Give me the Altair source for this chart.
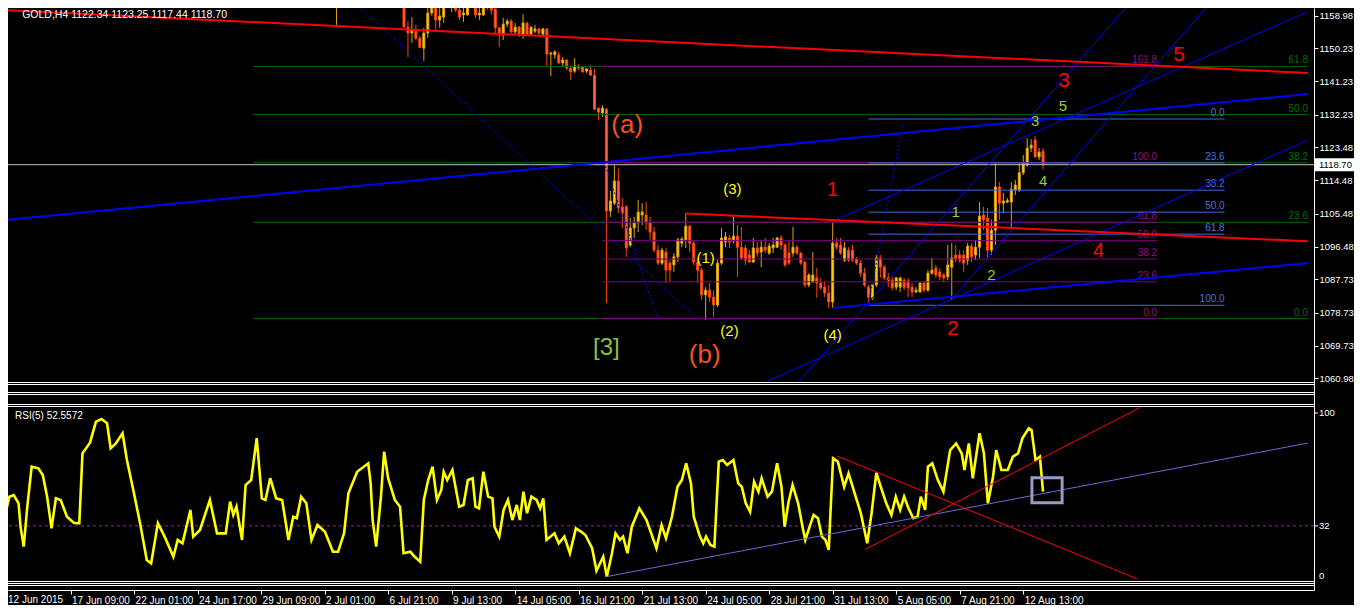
import altair as alt
import pandas as pd

# ---------------- layout (plot area = reference x 8..1314, y 8..590) ----------------
W, H = 1306, 582
X_DOMAIN = [1.5, 328.0]          # bar index (4 px per H4 bar)
P_DOMAIN = [1003.74, 1161.06]    # price scale of the main window
R_DOMAIN = [-6.63, 343.98]       # RSI scale of the sub window

# ---------------- data ----------------
x_tick_bars = [0, 16, 32, 48, 64, 80, 96, 112, 128, 144, 160, 176, 192, 208, 224, 240, 256]
x_tick_labels = ["12 Jun 2015", "17 Jun 09:00", "22 Jun 01:00", "24 Jun 17:00", "29 Jun 09:00",
                 "2 Jul 01:00", "6 Jul 21:00", "9 Jul 13:00", "14 Jul 05:00", "16 Jul 21:00",
                 "21 Jul 13:00", "24 Jul 05:00", "28 Jul 21:00", "31 Jul 13:00", "5 Aug 05:00",
                 "7 Aug 21:00", "12 Aug 13:00"]
price_ticks = [1158.98, 1150.23, 1141.23, 1132.23, 1123.48, 1114.48, 1105.48,
               1096.48, 1087.73, 1078.73, 1069.73, 1060.98]
rsi_ticks = [100, 32]
last_price = 1118.70
rsi_last = "52.5572"

# (bar, open, high, low, close)
candles = [
    (83, 1166.0, 1169.0, 1156.5, 1168.0), (84, 1165.0, 1170.0, 1161.6, 1167.5),
    (85, 1165.5, 1170.0, 1162.7, 1168.0), (93, 1168.0, 1170.0, 1162.4, 1165.0),
    (100, 1166.0, 1167.0, 1155.6, 1156.0), (101, 1155.9, 1157.5, 1147.8, 1154.3),
    (102, 1154.3, 1158.6, 1151.6, 1155.1), (103, 1154.8, 1156.5, 1152.4, 1152.9),
    (104, 1152.9, 1153.5, 1150.2, 1150.4), (105, 1150.2, 1155.7, 1146.7, 1154.3),
    (106, 1154.3, 1163.5, 1153.0, 1159.7), (107, 1159.7, 1164.5, 1159.0, 1162.7),
    (108, 1162.7, 1163.9, 1154.6, 1157.8), (109, 1157.8, 1161.3, 1155.7, 1158.9),
    (110, 1158.6, 1164.5, 1157.0, 1163.5), (111, 1164.5, 1165.5, 1161.1, 1161.9),
    (112, 1161.9, 1165.0, 1160.0, 1163.6), (113, 1163.8, 1165.0, 1160.0, 1160.5),
    (114, 1160.5, 1161.3, 1157.8, 1158.6), (115, 1159.2, 1161.1, 1157.3, 1159.7),
    (116, 1159.2, 1162.7, 1159.0, 1162.4), (117, 1162.4, 1163.5, 1161.1, 1162.8),
    (118, 1162.7, 1163.5, 1158.3, 1159.2), (119, 1159.2, 1163.5, 1157.8, 1159.7),
    (120, 1159.2, 1164.5, 1158.9, 1163.6), (121, 1163.6, 1164.5, 1160.5, 1161.1),
    (122, 1161.1, 1163.5, 1159.2, 1160.5), (123, 1160.8, 1160.9, 1154.3, 1155.7),
    (124, 1155.7, 1155.8, 1150.5, 1153.8), (125, 1153.8, 1158.4, 1152.4, 1156.7),
    (126, 1156.7, 1158.1, 1155.9, 1157.5), (127, 1157.5, 1158.1, 1154.3, 1154.6),
    (128, 1154.6, 1157.0, 1153.8, 1155.9), (129, 1155.9, 1156.2, 1153.2, 1153.8),
    (130, 1153.8, 1159.4, 1152.7, 1157.0), (131, 1157.0, 1157.3, 1153.5, 1153.8),
    (132, 1154.0, 1156.1, 1153.8, 1155.9), (133, 1154.8, 1156.5, 1154.3, 1155.4),
    (134, 1155.4, 1155.7, 1153.2, 1154.3), (135, 1154.0, 1155.7, 1153.8, 1155.4),
    (136, 1155.4, 1155.6, 1145.4, 1148.6), (137, 1148.6, 1149.2, 1142.7, 1148.9),
    (138, 1148.4, 1149.7, 1147.3, 1149.2), (139, 1148.4, 1149.2, 1145.9, 1146.2),
    (140, 1146.2, 1147.8, 1145.1, 1147.0), (141, 1147.0, 1147.2, 1144.3, 1144.8),
    (142, 1144.8, 1145.6, 1141.6, 1143.8), (143, 1144.0, 1147.5, 1143.5, 1145.4),
    (144, 1145.4, 1145.9, 1144.3, 1144.8), (145, 1145.1, 1145.3, 1143.5, 1143.8),
    (146, 1144.0, 1144.8, 1143.5, 1144.6), (147, 1144.3, 1145.6, 1142.7, 1142.9),
    (148, 1142.9, 1144.6, 1133.5, 1133.7), (149, 1134.0, 1134.2, 1130.8, 1132.9),
    (150, 1132.7, 1134.8, 1131.6, 1134.0), (151, 1133.7, 1134.0, 1081.3, 1106.2),
    (152, 1106.2, 1111.6, 1104.6, 1108.9), (153, 1108.3, 1118.6, 1107.8, 1114.3),
    (154, 1114.3, 1117.7, 1105.6, 1107.0), (155, 1107.3, 1109.7, 1101.6, 1105.6),
    (156, 1107.3, 1107.8, 1093.8, 1096.2), (157, 1097.0, 1104.3, 1096.4, 1101.6),
    (158, 1101.6, 1104.6, 1098.9, 1103.0), (159, 1103.0, 1109.2, 1100.5, 1105.9),
    (160, 1105.1, 1108.3, 1102.4, 1105.9), (161, 1105.1, 1108.6, 1101.1, 1103.0),
    (162, 1103.0, 1104.6, 1098.4, 1100.5), (163, 1100.5, 1101.9, 1095.1, 1095.6),
    (164, 1095.6, 1097.0, 1091.6, 1092.1), (165, 1092.1, 1096.2, 1091.6, 1095.6),
    (166, 1095.1, 1096.2, 1086.7, 1090.2), (167, 1092.1, 1092.9, 1087.0, 1090.2),
    (168, 1091.6, 1094.8, 1089.7, 1093.8), (169, 1093.8, 1098.9, 1092.4, 1098.4),
    (170, 1097.5, 1099.2, 1096.4, 1098.6), (171, 1098.4, 1105.6, 1096.2, 1102.1),
    (172, 1102.1, 1102.4, 1095.1, 1097.5), (173, 1097.5, 1098.4, 1091.6, 1092.4),
    (174, 1092.4, 1092.9, 1086.7, 1090.2), (175, 1090.2, 1090.8, 1082.1, 1083.5),
    (176, 1083.5, 1085.6, 1076.7, 1084.8), (177, 1084.8, 1086.7, 1081.6, 1082.9),
    (178, 1082.9, 1084.8, 1077.5, 1080.8), (179, 1080.8, 1092.9, 1080.2, 1092.1),
    (180, 1092.1, 1101.6, 1091.6, 1098.9), (181, 1097.8, 1100.5, 1096.4, 1099.2),
    (182, 1098.9, 1099.7, 1096.2, 1097.8), (183, 1098.4, 1105.1, 1097.5, 1099.4),
    (184, 1099.4, 1102.4, 1088.4, 1096.4), (185, 1096.4, 1101.9, 1092.9, 1093.5),
    (186, 1096.2, 1097.0, 1091.6, 1092.9), (187, 1094.3, 1095.6, 1092.1, 1092.4),
    (188, 1092.4, 1098.9, 1092.1, 1096.2), (189, 1096.2, 1097.8, 1093.8, 1094.8),
    (190, 1095.1, 1098.4, 1091.0, 1096.4), (191, 1096.4, 1098.9, 1094.8, 1095.6),
    (192, 1094.8, 1097.5, 1094.3, 1096.7), (193, 1096.2, 1098.9, 1094.8, 1097.0),
    (194, 1096.4, 1099.2, 1096.2, 1098.9), (195, 1098.9, 1099.7, 1095.6, 1097.0),
    (196, 1097.0, 1097.5, 1091.0, 1091.6), (197, 1094.8, 1098.4, 1091.6, 1092.1),
    (198, 1094.8, 1101.9, 1093.8, 1096.4), (199, 1096.4, 1097.0, 1094.3, 1094.8),
    (200, 1094.8, 1095.1, 1091.6, 1092.1), (201, 1092.4, 1092.6, 1085.6, 1086.2),
    (202, 1086.2, 1089.4, 1085.6, 1088.9), (203, 1087.0, 1095.1, 1086.8, 1088.9),
    (204, 1088.1, 1090.8, 1082.7, 1086.7), (205, 1086.7, 1088.1, 1084.8, 1085.4),
    (206, 1085.6, 1087.0, 1082.9, 1084.0), (207, 1084.0, 1086.2, 1080.0, 1081.6),
    (208, 1081.6, 1103.2, 1080.0, 1097.5), (209, 1097.5, 1098.9, 1095.6, 1096.4),
    (210, 1097.0, 1098.9, 1094.3, 1094.8), (211, 1092.9, 1097.8, 1092.4, 1096.2),
    (212, 1095.6, 1096.4, 1092.4, 1092.9), (213, 1095.6, 1097.0, 1092.4, 1092.9),
    (214, 1093.2, 1093.8, 1091.6, 1092.1), (215, 1092.1, 1092.9, 1088.4, 1089.4),
    (216, 1089.4, 1090.8, 1085.6, 1086.2), (217, 1085.6, 1086.2, 1080.8, 1082.9),
    (218, 1082.7, 1086.7, 1082.1, 1086.2), (219, 1086.2, 1094.3, 1085.6, 1093.5),
    (220, 1093.5, 1094.3, 1088.1, 1091.0), (221, 1091.0, 1091.6, 1087.5, 1088.1),
    (222, 1088.1, 1089.4, 1085.6, 1087.0), (223, 1087.5, 1088.4, 1084.8, 1085.4),
    (224, 1085.6, 1088.4, 1084.8, 1088.1), (225, 1085.6, 1088.4, 1084.3, 1088.1),
    (226, 1087.5, 1088.1, 1084.8, 1085.6), (227, 1087.3, 1088.1, 1082.9, 1085.4),
    (228, 1085.6, 1086.7, 1082.9, 1084.3), (229, 1084.3, 1085.6, 1084.0, 1084.8),
    (230, 1084.3, 1087.0, 1084.0, 1086.7), (231, 1086.7, 1087.0, 1084.3, 1084.8),
    (232, 1084.8, 1090.2, 1084.3, 1089.4), (233, 1089.4, 1093.5, 1088.9, 1090.2),
    (234, 1090.8, 1091.6, 1088.1, 1088.9), (235, 1089.7, 1090.8, 1087.5, 1088.4),
    (236, 1088.9, 1089.4, 1087.0, 1088.1), (237, 1088.4, 1097.0, 1087.5, 1091.6),
    (238, 1091.0, 1097.5, 1082.1, 1093.5), (239, 1094.3, 1097.0, 1092.4, 1093.2),
    (240, 1094.3, 1095.6, 1092.1, 1092.9), (241, 1094.3, 1095.6, 1089.7, 1092.1),
    (242, 1092.9, 1097.5, 1091.6, 1096.7), (243, 1096.7, 1097.5, 1092.4, 1093.8),
    (244, 1094.3, 1098.4, 1092.9, 1096.4), (245, 1096.4, 1108.6, 1093.5, 1104.8),
    (246, 1105.1, 1107.3, 1101.1, 1103.8), (247, 1104.3, 1107.0, 1093.5, 1095.6),
    (248, 1095.6, 1103.8, 1094.3, 1101.0), (249, 1101.0, 1119.2, 1097.0, 1112.7),
    (250, 1112.7, 1114.0, 1103.8, 1108.3), (251, 1108.3, 1111.1, 1105.6, 1108.9),
    (252, 1108.6, 1109.7, 1108.3, 1109.0), (253, 1108.6, 1114.0, 1101.6, 1112.1),
    (254, 1111.9, 1114.6, 1110.5, 1113.2), (255, 1111.9, 1119.4, 1111.3, 1116.5),
    (256, 1116.5, 1121.3, 1115.9, 1119.2), (257, 1118.6, 1125.9, 1118.1, 1123.2),
    (258, 1123.2, 1125.6, 1122.1, 1124.0), (259, 1125.4, 1126.5, 1120.5, 1120.8),
    (260, 1120.8, 1123.2, 1120.0, 1122.1), (261, 1122.34, 1123.25, 1117.44, 1118.70),
]

# RSI(5) vertices (bar, value)
rsi_points = [
    (-0.5, 38.6), (0.6, 49.6), (1.7, 50.6), (2.9, 45.6), (3.4, 31.5), (4.2, 19.5), (5.1, 43.6),
    (6.2, 67.7), (7.9, 66.7), (9.0, 62.7), (10.1, 49.6), (11.2, 30.5), (12.3, 48.6), (13.5, 47.6),
    (15.1, 37.5), (16.8, 33.9), (18.2, 33.6), (19.0, 75.7), (20.9, 82.1), (22.4, 94.8), (23.8, 96.4),
    (25.2, 93.8), (26.1, 78.7), (27.4, 81.7), (29.1, 87.8), (30.2, 71.7), (31.9, 52.6), (33.6, 32.5),
    (35.2, 11.4), (36.3, 9.4), (38.0, 33.6), (39.7, 25.5), (41.9, 13.4), (43.0, 23.5), (44.2, 21.5),
    (46.2, 41.6), (46.9, 25.5), (48.6, 29.5), (51.1, 47.6), (52.9, 27.5), (55.1, 27.5), (56.2, 46.6),
    (57.0, 38.6), (57.8, 43.6), (59.2, 23.5), (60.1, 56.6), (61.5, 59.6), (62.9, 84.8), (64.2, 48.6),
    (65.1, 47.6), (66.3, 60.7), (67.8, 48.6), (69.3, 47.6), (70.9, 23.5), (72.1, 37.5), (73.0, 36.6),
    (74.1, 49.6), (75.4, 45.6), (76.7, 23.5), (78.2, 32.5), (80.1, 28.5), (82.1, 16.4), (83.4, 16.4),
    (84.9, 27.5), (86.0, 51.6), (88.2, 64.6), (91.0, 69.7), (91.6, 57.6), (92.1, 35.5), (93.0, 19.5),
    (94.2, 49.6), (95.0, 76.7), (96.0, 60.7), (97.7, 47.6), (99.0, 43.6), (99.9, 15.5), (101.6, 16.4),
    (102.7, 13.4), (104.1, 10.4), (105.0, 47.6), (106.1, 59.6), (107.2, 67.7), (108.3, 47.6),
    (109.4, 53.6), (110.0, 64.6), (110.9, 59.6), (112.2, 65.7), (113.9, 43.6), (115.0, 44.6),
    (116.1, 59.6), (117.3, 60.7), (118.0, 43.6), (118.9, 42.6), (120.0, 64.6), (121.2, 49.6),
    (122.3, 48.6), (122.8, 31.5), (124.0, 25.5), (125.1, 41.6), (126.2, 47.6), (127.3, 35.5),
    (128.4, 44.6), (129.2, 35.5), (130.1, 52.6), (131.0, 39.6), (132.1, 49.6), (133.4, 47.6),
    (134.3, 42.6), (135.1, 48.6), (135.9, 23.5), (137.9, 27.5), (139.0, 21.5), (140.4, 25.5),
    (141.8, 15.5), (143.3, 30.5), (144.6, 28.5), (145.7, 26.5), (147.4, 18.5), (148.5, 5.0),
    (150.2, 13.4), (151.1, 1.4), (152.4, 15.5), (153.3, 27.5), (154.4, 23.5), (155.2, 25.5),
    (156.3, 15.5), (157.4, 31.5), (159.3, 42.6), (161.1, 35.5), (163.6, 18.5), (164.9, 32.5),
    (166.0, 24.5), (167.5, 37.5), (168.9, 55.6), (170.0, 59.6), (171.1, 69.7), (172.3, 57.6),
    (173.0, 37.5), (174.5, 26.0), (175.4, 21.5), (176.1, 25.5), (177.2, 20.5), (178.2, 19.5),
    (179.3, 70.7), (180.3, 71.7), (181.4, 68.7), (183.0, 71.7), (184.2, 57.6), (185.1, 55.6),
    (186.1, 45.6), (187.2, 40.5), (188.2, 58.6), (189.3, 52.6), (190.1, 60.7), (191.6, 49.6),
    (192.7, 52.6), (194.0, 69.7), (195.1, 55.6), (195.9, 31.5), (196.9, 46.6), (197.9, 56.6),
    (199.3, 45.6), (200.4, 31.5), (201.1, 23.5), (202.2, 31.5), (203.2, 38.6), (204.3, 36.6),
    (205.3, 25.5), (206.2, 23.5), (207.0, 17.5), (208.1, 72.7), (209.3, 70.7), (210.9, 55.6),
    (212.0, 63.7), (213.8, 49.6), (215.1, 39.6), (216.7, 21.5), (217.8, 39.6), (219.0, 64.0),
    (220.1, 55.6), (221.5, 45.6), (222.8, 38.6), (223.9, 49.6), (225.0, 41.6), (226.0, 49.6),
    (227.1, 42.6), (228.3, 36.6), (229.4, 37.5), (230.2, 49.6), (231.3, 41.6), (232.0, 67.7),
    (233.1, 69.7), (234.5, 59.6), (235.9, 52.6), (237.6, 77.7), (239.1, 81.7), (240.5, 75.7),
    (241.2, 65.7), (242.3, 81.7), (243.3, 60.7), (245.0, 87.8), (246.1, 75.7), (247.1, 45.6),
    (248.4, 61.6), (249.2, 77.7), (250.5, 65.7), (252.1, 65.7), (253.4, 73.7), (254.7, 75.7),
    (255.8, 84.8), (257.4, 90.8), (258.1, 89.8), (259.1, 71.7), (260.2, 73.7), (261.0, 52.6),
]

# trend lines (bar0, price0, bar1, price1)
thick_red = [(-0.5, 1160.5, 327.75, 1143.5), (171.0, 1105.5, 327.75, 1098.0)]
thick_blue = [(-0.5, 1103.75, 327.75, 1137.8), (208.25, 1080.0, 327.75, 1092.1)]
thin_blue = [(208.25, 1103.5, 327.75, 1160.1), (191.25, 1060.0, 327.75, 1125.4),
             (199.5, 1060.0, 283.5, 1163.2), (238.25, 1082.7, 303.75, 1163.2)]
dashed_blue = [(217.0, 1081.0, 225.75, 1130.0), (87.0, 1163.2, 174.0, 1077.0),
               (150.75, 1118.35, 164.0, 1077.0)]

# Fibonacci objects: (0% price, 100% price, start bar, end bar, levels)
fib_green = (1077.1, 1187.4, 62.0, 327.75, [0.0, 23.6, 38.2, 50.0, 61.8])
fib_purple = (1077.1, 1119.25, 150.0, 289.75, [0.0, 23.6, 38.2, 50.0, 61.8, 100.0, 161.8])
fib_blue = (1131.05, 1080.7, 217.0, 306.75, [0.0, 23.6, 38.2, 50.0, 61.8, 100.0])

# RSI objects
rsi_red = [(216.2, 17.9, 285.5, 103.4), (209.1, 74.1, 284.75, 0.0)]
rsi_blue = [(151.0, 1.4, 327.75, 81.9)]
rsi_box = [(258.2, 61.0, 265.8, 46.0)]
rsi_level = 32

# wave labels (text, bar, price, colour, font size)
wave_labels = [
    ("(a)", 156.25, 1129.4, "#F5501E", 26), ("(b)", 175.75, 1067.3, "#F5501E", 26),
    ("[3]", 151.0, 1069.1, "#86C440", 24),
    ("(3)", 182.75, 1112.1, "#FFFF00", 15), ("(1)", 176.0, 1093.5, "#FFFF00", 15),
    ("(2)", 182.0, 1073.8, "#FFFF00", 15), ("(4)", 208.0, 1072.7, "#FFFF00", 15),
    ("1", 208.0, 1111.9, "#FF0000", 21), ("2", 238.25, 1074.3, "#FF0000", 21),
    ("3", 266.25, 1141.3, "#FF0000", 21), ("4", 275.0, 1095.4, "#FF0000", 21),
    ("5", 295.25, 1148.4, "#FF0000", 21),
    ("1", 239.0, 1105.9, "#9ACD32", 15), ("2", 248.0, 1088.8, "#9ACD32", 15),
    ("3", 259.0, 1130.5, "#9ACD32", 15), ("4", 261.0, 1114.3, "#9ACD32", 15),
    ("5", 266.0, 1134.6, "#9ACD32", 15),
]

# ---------------- styling ----------------
FONT = "Liberation Sans"
UP_BODY, UP_EDGE = "#FFD700", "#E0A010"
DN_BODY, DN_EDGE = "#FF6347", "#FF4500"

xs = alt.Scale(domain=X_DOMAIN, nice=False, zero=False)
ps = alt.Scale(domain=P_DOMAIN, nice=False, zero=False)
rs = alt.Scale(domain=R_DOMAIN, nice=False, zero=False)

label_expr = "[" + ",".join("'%s'" % s for s in x_tick_labels) + "][round(datum.value / 16)]"
xaxis = alt.Axis(values=x_tick_bars, labelExpr=label_expr, labelAlign="left", labelBaseline="top",
                 labelColor="white", labelFont=FONT, labelFontSize=10, labelPadding=1, labelOffset=1,
                 tickColor="white", tickSize=4, domainColor="white", grid=False, title=None,
                 labelFlush=False, labelOverlap=False, labelBound=False)
price_axis = alt.Axis(orient="right", values=price_ticks, format=".2f", labelColor="white",
                      labelFont=FONT, labelFontSize=9.5, labelPadding=1, tickColor="white",
                      tickSize=4, domainColor="white", grid=False, title=None,
                      labelOverlap=False, labelFlush=False, labelBound=False)


def X(f):
    return alt.X(f, type="quantitative", scale=xs, axis=xaxis)


def PY(f, axis=None):
    return alt.Y(f, type="quantitative", scale=ps, axis=axis)


def RY(f):
    return alt.Y(f, type="quantitative", scale=rs, axis=None)


def seg_df(segs):
    return pd.DataFrame(segs, columns=["b0", "v0", "b1", "v1"])


def seg_layer(segs, yfun, **mk):
    return alt.Chart(seg_df(segs)).mark_rule(clip=True, **mk).encode(
        x=X("b0"), x2="b1", y=yfun("v0"), y2="v1")


def fib_frames(fib):
    p0, p100, b0, b1, levels = fib
    df = pd.DataFrame({"lvl": levels})
    df["price"] = p0 + (p100 - p0) * df["lvl"] / 100.0
    df["txt"] = df["lvl"].map(lambda v: "%.1f" % v)
    df["b0"] = b0
    df["b1"] = b1
    return df


layers = []

# window separators (frame lines between the price and RSI windows), crisp half-pixel rows
sep = pd.DataFrame({"yy": [374.5, 376.5, 384.5, 386.5, 396.5, 398.5, 573.5, 575.5, 577.5]})
layers.append(alt.Chart(sep).mark_rule(color="white", strokeWidth=1).encode(
    x=alt.value(0), x2=alt.value(W), y=alt.Y("yy:Q", scale=None, axis=None)))

# ---- RSI window ----
layers.append(alt.Chart(pd.DataFrame({"v": [rsi_level]})).mark_rule(
    color="#A020A0", strokeDash=[3, 3], strokeWidth=1).encode(y=RY("v")))
rdf = pd.DataFrame(rsi_points, columns=["bar", "rsi"])
layers.append(alt.Chart(rdf).mark_line(color="#FFFF00", strokeWidth=2.6, clip=True).encode(
    x=X("bar"), y=RY("rsi"), order="bar:Q"))
layers.append(seg_layer(rsi_blue, RY, color="#6B6BD6", strokeWidth=1))
layers.append(seg_layer(rsi_red, RY, color="#FF0000", strokeWidth=1))
layers.append(alt.Chart(seg_df(rsi_box)).mark_rect(
    fillOpacity=0, stroke="#9A9AC4", strokeWidth=3, clip=True).encode(
    x=X("b0"), x2="b1", y=RY("v0"), y2="v1"))
layers.append(alt.Chart(pd.DataFrame({"b": [2.0], "v": [98.2], "t": ["RSI(5) " + rsi_last]})).mark_text(
    align="left", baseline="middle", color="white", font=FONT, fontSize=10).encode(
    x=X("b"), y=RY("v"), text="t:N"))
rt = pd.DataFrame({"v": rsi_ticks, "t": [str(v) for v in rsi_ticks]})
layers.append(alt.Chart(rt).mark_rule(color="white").encode(
    x=alt.value(W), x2=alt.value(W + 4), y=RY("v")))
layers.append(alt.Chart(rt).mark_text(align="left", baseline="middle", color="white",
                                      font=FONT, fontSize=9.5).encode(
    x=alt.value(W + 5), y=RY("v"), text="t:N"))
layers.append(alt.Chart(pd.DataFrame({"v": [0], "t": ["0"]})).mark_text(
    align="left", baseline="middle", color="white", font=FONT, fontSize=9.5, dy=-3).encode(
    x=alt.value(W + 5), y=RY("v"), text="t:N"))

# ---- price window ----
cdf = pd.DataFrame(candles, columns=["bar", "open", "high", "low", "close"])
up = cdf[cdf["close"] >= cdf["open"]]
dn = cdf[cdf["close"] < cdf["open"]]
layers.append(alt.Chart(up).mark_rule(color=UP_EDGE, strokeWidth=1, clip=True).encode(
    x=X("bar"), y=PY("low", price_axis), y2="high"))
layers.append(alt.Chart(dn).mark_rule(color=DN_EDGE, strokeWidth=1, clip=True).encode(
    x=X("bar"), y=PY("low"), y2="high"))
layers.append(alt.Chart(up).mark_bar(size=2, fill=UP_BODY, stroke=UP_EDGE, strokeWidth=1,
                                     clip=True).encode(x=X("bar"), y=PY("open"), y2="close"))
layers.append(alt.Chart(dn).mark_bar(size=2, fill=DN_BODY, stroke=DN_EDGE, strokeWidth=1,
                                     clip=True).encode(x=X("bar"), y=PY("open"), y2="close"))

# Fibonacci retracements
for fib, col, tcol in [(fib_green, "#006400", "#007000"), (fib_purple, "#800080", "#8B108B"),
                       (fib_blue, "#4169E1", "#4A72E8")]:
    fdf = fib_frames(fib)
    layers.append(alt.Chart(fdf).mark_rule(color=col, strokeWidth=1, clip=True).encode(
        x=X("b0"), x2="b1", y=PY("price")))
    layers.append(alt.Chart(fdf).mark_text(align="right", baseline="bottom", dy=-1, color=tcol,
                                           font=FONT, fontSize=10, clip=True).encode(
        x=X("b1"), y=PY("price"), text="txt:N"))

# current price line
layers.append(alt.Chart(pd.DataFrame({"p": [last_price]})).mark_rule(
    color="#C0C0C0", strokeWidth=1).encode(y=PY("p")))

# trend lines
layers.append(seg_layer(dashed_blue, PY, color="#0000FF", strokeWidth=1, strokeDash=[2, 2]))
layers.append(seg_layer(thin_blue, PY, color="#0000FF", strokeWidth=1))
layers.append(seg_layer(thick_blue, PY, color="#0000FF", strokeWidth=2))
layers.append(seg_layer(thick_red, PY, color="#FF0000", strokeWidth=2))

# wave count labels
wdf = pd.DataFrame(wave_labels, columns=["t", "bar", "price", "col", "fs"])
layers.append(alt.Chart(wdf).mark_text(align="center", baseline="middle", font=FONT).encode(
    x=X("bar"), y=PY("price"), text="t:N",
    color=alt.Color("col:N", scale=None), size=alt.Size("fs:Q", scale=None)))

# symbol title
layers.append(alt.Chart(pd.DataFrame({"b": [3.8], "p": [1159.2],
                                      "t": ["GOLD,H4  1122.34 1123.25 1117.44 1118.70"]})).mark_text(
    align="left", baseline="middle", color="white", font=FONT, fontSize=10.5).encode(
    x=X("b"), y=PY("p"), text="t:N"))

# first date label of the time axis (its tick lies left of the visible plot edge)
layers.append(alt.Chart(pd.DataFrame({"b": [x_tick_bars[0]], "t": [x_tick_labels[0]]})).mark_text(
    align="left", baseline="top", color="white", font=FONT, fontSize=10, dx=1).encode(
    x=alt.X("b", type="quantitative", scale=xs, axis=xaxis), y=alt.value(H + 5), text="t:N"))

# current price tag on the price axis
half = 6.5 * (P_DOMAIN[1] - P_DOMAIN[0]) / H
tag = pd.DataFrame({"p": [last_price], "lo": [last_price - half], "hi": [last_price + half],
                    "t": ["%.2f" % last_price]})
layers.append(alt.Chart(tag).mark_rect(color="white").encode(
    x=alt.value(W + 1), x2=alt.value(W + 40), y=PY("lo"), y2="hi"))
layers.append(alt.Chart(tag).mark_text(align="left", baseline="middle", color="black",
                                       font=FONT, fontSize=9.5).encode(
    x=alt.value(W + 5), y=PY("p"), text="t:N"))

chart = alt.layer(*layers).resolve_scale(
    y="independent", color="independent", size="independent"
).properties(
    width=W, height=H,
    padding={"left": 0, "top": 0, "right": 40, "bottom": 15},
    autosize=alt.AutoSizeParams(type="none"),
    background="black",
).configure_view(stroke=None, fill="black")

chart.save("out.html", embed_options={"renderer": "svg", "actions": False})
